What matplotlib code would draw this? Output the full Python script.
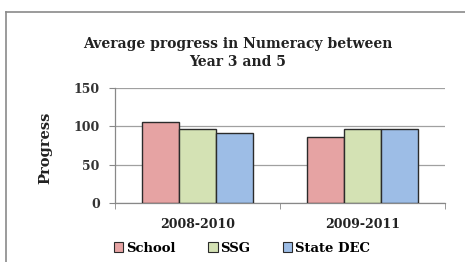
import matplotlib
matplotlib.use("Agg")
import matplotlib.pyplot as plt
from matplotlib.patches import Patch
from matplotlib.lines import Line2D
import numpy as np

categories = ["2008-2010", "2009-2011"]
series_names = ["School", "SSG", "State DEC"]
school = [106, 86]
ssg = [97, 97]
state_dec = [91, 97]
yticks = [0, 50, 100, 150]

colors = ["#E6A3A3", "#D4E2B4", "#9DBDE6"]
edge = "#2b2b2b"

plt.rcParams['font.family'] = ['DejaVu Serif']

fig = plt.figure(figsize=(4.65, 2.62), dpi=100)
ax = fig.add_axes([115/465, 1-203/262, 330/465, 115/262])

x = np.arange(len(categories))
w = 0.225
for i, (vals, c) in enumerate(zip([school, ssg, state_dec], colors)):
    ax.bar(x + (i-1)*w, vals, width=w, color=c, edgecolor=edge, linewidth=1.0, zorder=3)

ax.set_xlim(-0.5, 1.5)
ax.set_ylim(0, 150)
ax.set_yticks(yticks)
ax.set_yticklabels([str(v) for v in yticks], fontsize=9, fontweight='bold', color='#333333')
ax.set_xticks(x)
ax.set_xticklabels(categories, fontsize=9, fontweight='bold', color='#222222')
ax.tick_params(axis='x', length=0, pad=11)
ax.set_xticks([-0.5, 0.5, 1.5], minor=True)
ax.tick_params(axis='x', which='minor', length=4, color='#888888')
ax.tick_params(axis='y', length=4, color='#888888', pad=7)
ax.grid(axis='y', color='#a0a0a0', linewidth=0.9, zorder=0)
for s in ['top', 'right']:
    ax.spines[s].set_visible(False)
for s in ['left', 'bottom']:
    ax.spines[s].set_color('#888888')
    ax.spines[s].set_linewidth(0.9)

fig.text(45/465, 1-148/262, "Progress", rotation=90, ha='center', va='center',
         fontsize=10.5, fontweight='bold', color='#222222')
fig.text(238/465, 1-53/262, "Average progress in Numeracy between\nYear 3 and 5",
         ha='center', va='center', fontsize=10, fontweight='bold', color='#222222',
         linespacing=1.45)

handles = [Patch(facecolor=c, edgecolor=edge, linewidth=0.8) for c in colors]
fig.legend(handles, series_names, loc='center', bbox_to_anchor=(242/465, 1-248/262),
           ncol=3, frameon=False, handlelength=0.7, handleheight=0.7, handletextpad=0.2,
           columnspacing=2.5, prop={'family': 'DejaVu Serif', 'weight': 'bold', 'size': 9.5})

fig.add_artist(Line2D([6/465, 1.0], [1-12/262, 1-12/262], transform=fig.transFigure,
                      color='#8a8a8a', linewidth=1.2))
fig.add_artist(Line2D([6/465, 6/465], [0, 1-12/262], transform=fig.transFigure,
                      color='#8a8a8a', linewidth=1.2))

fig.savefig("out.png", dpi=100)
